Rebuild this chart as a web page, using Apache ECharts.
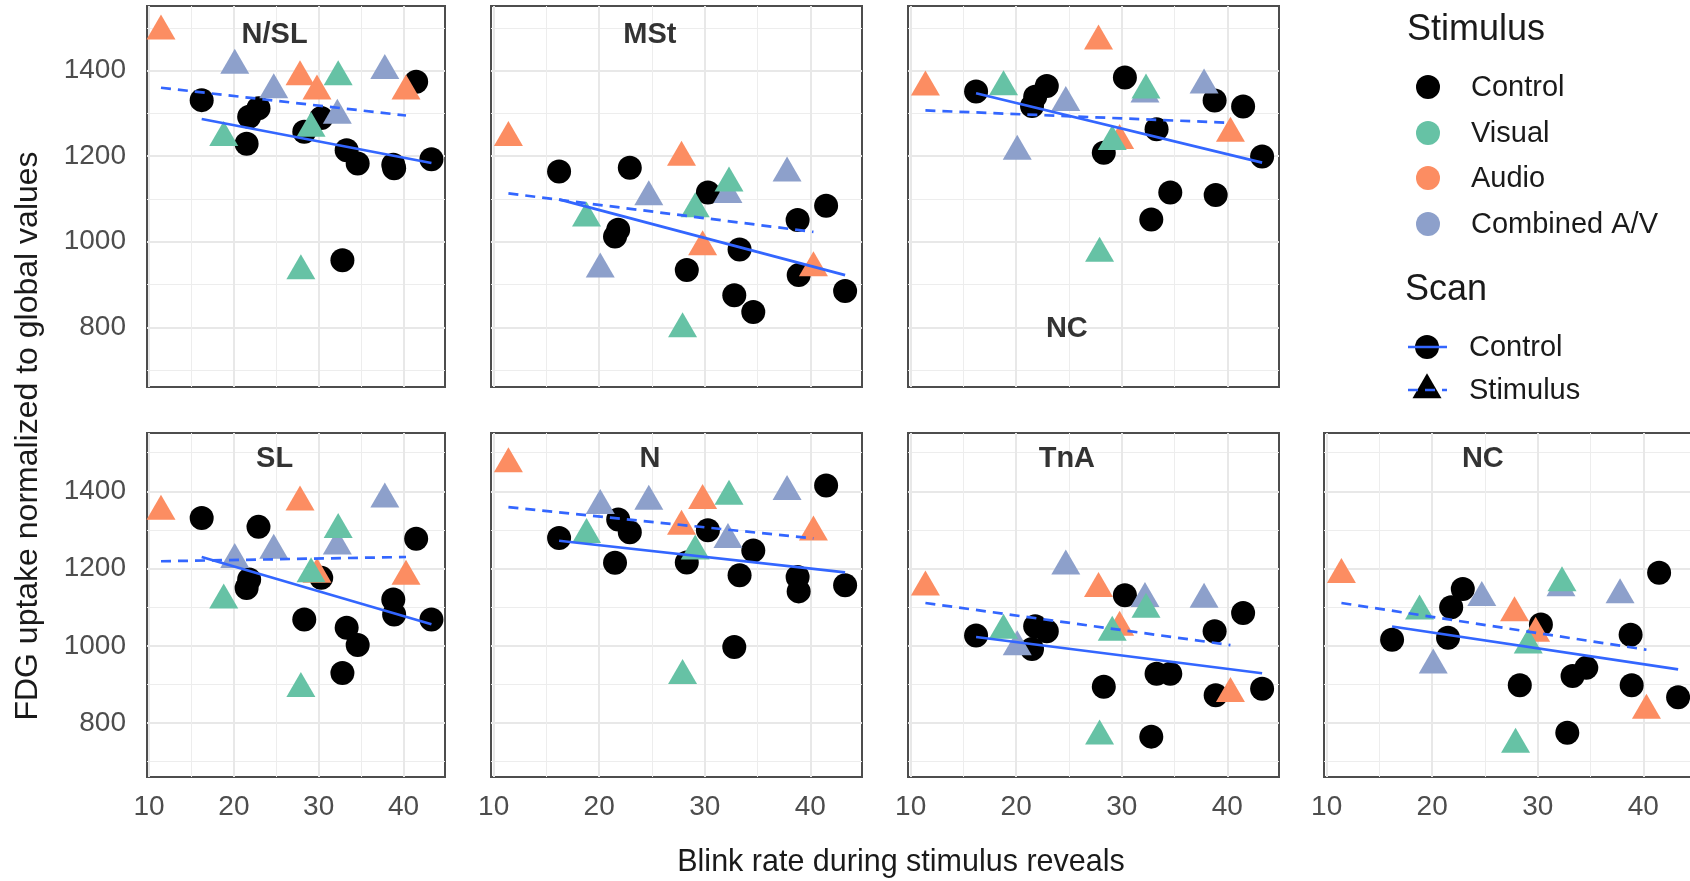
<!DOCTYPE html>
<html>
<head>
<meta charset="utf-8">
<script src="https://cdn.jsdelivr.net/npm/echarts@6/dist/echarts.min.js"></script>
<style>
  html, body { margin: 0; padding: 0; background: #ffffff; }
  #chart { width: 1690px; height: 881px; }
</style>
</head>
<body>
<div id="chart"></div>
<script>
// Region tags, one per facet (reading order)
const panelNames = ['N/SL', 'MSt', 'NC', 'SL', 'N', 'TnA', 'NC'];

// Blink rate of each subject (x), shared by every facet
const ctrlBlink = [16.2, 21.5, 21.8, 22.9, 28.3, 30.3, 32.8, 33.3, 34.6, 38.8, 38.9, 41.5, 43.3];
const audioBlink = [11.4, 27.8, 29.8, 40.3];
const visualBlink = [18.8, 27.9, 29.1, 32.3];
const combinedBlink = [20.1, 24.7, 32.2, 37.8];

// FDG uptake per facet (rows follow panelNames)
const ctrlFDG = [
  [1331, 1229, 1292, 1312, 1257, 1289, 957, 1214, 1183, 1180, 1172, 1374, 1193],
  [1164, 1012, 1028, 1173, 934, 1115, 875, 982, 836, 1051, 922, 1084, 885],
  [1351, 1317, 1339, 1364, 1208, 1384, 1052, 1263, 1115, 1330, 1109, 1316, 1199],
  [1331, 1150, 1172, 1308, 1068, 1176, 930, 1047, 1002, 1120, 1081, 1277, 1068],
  [1279, 1215, 1327, 1294, 1216, 1299, 997, 1183, 1247, 1178, 1141, 1415, 1157],
  [1027, 992, 1051, 1038, 894, 1131, 765, 928, 928, 1038, 872, 1085, 889],
  [1016, 1021, 1100, 1147, 898, 1055, 775, 922, 943, 1029, 898, 1189, 867]
];
const audioFDG = [
  [1492, 1385, 1352, 1352],
  [1243, 1197, 988, 939],
  [1361, 1469, 1236, 1253],
  [1348, 1372, 1185, 1180],
  [1471, 1309, 1376, 1294],
  [1152, 1148, 1048, 876],
  [1184, 1085, 1032, 833]
];
const visualFDG = [
  [1243, 932, 1265, 1385],
  [1055, 796, 1077, 1137],
  [1362, 973, 1234, 1354],
  [1118, 889, 1186, 1301],
  [1288, 923, 1245, 1387],
  [1040, 766, 1035, 1094],
  [1090, 745, 1002, 1163]
];
const combinedFDG = [
  [1412, 1355, 1295, 1400],
  [936, 1105, 1110, 1160],
  [1211, 1325, 1345, 1366],
  [1223, 1247, 1258, 1380],
  [1363, 1374, 1275, 1399],
  [997, 1206, 1122, 1120],
  [950, 1125, 1150, 1132]
];

// Linear fits: FDG at the first and last blink rate of each scan group
const fitControlFDG = [
  [1287, 1184], [1099, 922], [1347, 1185], [1230, 1056], [1272, 1190], [1023, 929], [1050, 939]
];
const fitStimulusFDG = [
  [1360, 1295], [1113, 1023], [1307, 1278], [1219, 1230], [1359, 1278], [1111, 1002], [1111, 990]
];

// Where each region tag sits, in data units
const tagBlink = [24.8, 24.8, 24.8, 24.8, 24.8, 24.8, 24.8];
const tagFDG = [1484, 1484, 796, 1484, 1484, 1484, 1484];

// Axis ranges and tick labels
const xRange = [9.75, 44.9];
const yRange = [660.5, 1551];
const xTickLabels = [10, 20, 30, 40];
const yTickLabels = [800, 1000, 1200, 1400];

// ---- layout and styling ----
const FONT = '"Liberation Sans", Arial, sans-serif';
const COLORS = { Control: '#000000', Visual: '#66C2A5', Audio: '#FC8D62', 'Combined A/V': '#8DA0CB' };
const FIT_COLOR = '#3366FF';
const panelBoxes = [
  [147, 6, 298, 381], [491, 6, 371, 381], [908, 6, 371, 381],
  [147, 433, 298, 344], [491, 433, 371, 344], [908, 433, 371, 344], [1324, 433, 371, 344]
];
const bottomRow = [false, false, false, true, true, true, true];
const leftCol = [true, false, false, true, false, false, false];

const TRI_W = 29, TRI_H = 25;

const grids = [], xAxes = [], yAxes = [], series = [];

const pairs = (xs, ys) => xs.map((x, k) => [x, ys[k]]);
const pick = (list, v) => list.indexOf(Math.round(v * 1000) / 1000) >= 0;

panelBoxes.forEach((b, i) => {
  grids.push({
    left: b[0], top: b[1], width: b[2], height: b[3],
    outerBoundsMode: 'none', containLabel: false,
    show: true, borderColor: '#4d4d4d', borderWidth: 2, backgroundColor: 'transparent'
  });
  // minor grid (every 5 / every 100)
  xAxes.push({
    type: 'value', gridIndex: i, position: 'bottom', min: xRange[0], max: xRange[1],
    minInterval: 5, maxInterval: 5,
    axisLine: { show: false, onZero: false }, axisTick: { show: false }, axisLabel: { show: false },
    splitLine: { show: true, showMinLine: false, showMaxLine: false, lineStyle: { color: '#ededed', width: 1 } }
  });
  // major grid with labels (every 10)
  xAxes.push({
    type: 'value', gridIndex: i, position: 'bottom', min: xRange[0], max: xRange[1],
    minInterval: 10, maxInterval: 10,
    axisLine: { show: false, onZero: false }, axisTick: { show: false },
    axisLabel: {
      show: bottomRow[i], margin: 16, fontSize: 28, color: '#4d4d4d', fontFamily: FONT,
      formatter: v => (pick(xTickLabels, v) ? String(v) : '')
    },
    splitLine: { show: true, showMinLine: false, showMaxLine: false, lineStyle: { color: '#e8e8e8', width: 2 } }
  });
  yAxes.push({
    type: 'value', gridIndex: i, position: 'left', min: yRange[0], max: yRange[1],
    minInterval: 100, maxInterval: 100,
    axisLine: { show: false, onZero: false }, axisTick: { show: false }, axisLabel: { show: false },
    splitLine: { show: true, showMinLine: false, showMaxLine: false, lineStyle: { color: '#ededed', width: 1 } }
  });
  yAxes.push({
    type: 'value', gridIndex: i, position: 'left', min: yRange[0], max: yRange[1],
    minInterval: 200, maxInterval: 200,
    axisLine: { show: false, onZero: false }, axisTick: { show: false },
    axisLabel: {
      show: leftCol[i], margin: 21, fontSize: 28, color: '#4d4d4d', fontFamily: FONT,
      formatter: v => (pick(yTickLabels, v) ? String(v) : '')
    },
    splitLine: { show: true, showMinLine: false, showMaxLine: false, lineStyle: { color: '#e8e8e8', width: 2 } }
  });

  const xi = 2 * i + 1, yi = 2 * i + 1;

  // control scan: black circles
  series.push({
    type: 'scatter', name: 'Control', xAxisIndex: xi, yAxisIndex: yi,
    symbol: 'circle', symbolSize: 24, itemStyle: { color: COLORS.Control, opacity: 1 },
    data: pairs(ctrlBlink, ctrlFDG[i]), z: 3
  });
  // stimulus scan: triangles coloured by stimulus type
  const tri = (name, xs, ys) => ({
    type: 'scatter', name, xAxisIndex: xi, yAxisIndex: yi,
    symbol: 'triangle', symbolSize: [TRI_W, TRI_H], symbolOffset: [0, -TRI_H / 6],
    itemStyle: { color: COLORS[name], opacity: 1 }, data: pairs(xs, ys), z: 3
  });
  series.push(tri('Combined A/V', combinedBlink, combinedFDG[i]));
  series.push(tri('Audio', audioBlink, audioFDG[i]));
  series.push(tri('Visual', visualBlink, visualFDG[i]));

  // fitted lines
  const cx0 = Math.min(...ctrlBlink), cx1 = Math.max(...ctrlBlink);
  const stimX = audioBlink.concat(visualBlink, combinedBlink);
  const sx0 = Math.min(...stimX), sx1 = Math.max(...stimX);
  series.push({
    type: 'line', xAxisIndex: xi, yAxisIndex: yi, symbol: 'none', z: 4,
    lineStyle: { color: FIT_COLOR, width: 2.7, type: 'solid' },
    data: [[cx0, fitControlFDG[i][0]], [cx1, fitControlFDG[i][1]]]
  });
  series.push({
    type: 'line', xAxisIndex: xi, yAxisIndex: yi, symbol: 'none', z: 4,
    lineStyle: { color: FIT_COLOR, width: 2.7, type: [10, 7] },
    data: [[sx0, fitStimulusFDG[i][0]], [sx1, fitStimulusFDG[i][1]]]
  });

  // region tag
  series.push({
    type: 'scatter', xAxisIndex: xi, yAxisIndex: yi, symbol: 'circle', symbolSize: 2, z: 5,
    itemStyle: { color: 'rgba(0,0,0,0)' },
    label: {
      show: true, position: 'inside', formatter: panelNames[i],
      fontSize: 29, fontWeight: 'bold', color: '#000000', fontFamily: FONT,
      textBorderWidth: 0
    },
    data: [[tagBlink[i], tagFDG[i]]]
  });
});

// legend and axis titles
const legendText = (text, x, y, size) => ({
  type: 'text', x, y,
  style: { text, fontSize: size, fontFamily: FONT, fill: '#1a1a1a', align: 'left', verticalAlign: 'middle' }
});
const stimulusItems = ['Control', 'Visual', 'Audio', 'Combined A/V'];
const stimulusRows = [87, 133, 178, 224];
const graphics = [
  {
    type: 'text', x: 901, y: 863,
    style: { text: 'Blink rate during stimulus reveals', fontSize: 30.5, fontFamily: FONT, fill: '#1a1a1a', align: 'center', verticalAlign: 'middle' }
  },
  {
    type: 'text', x: 28, y: 436, rotation: Math.PI / 2,
    style: { text: 'FDG uptake normalized to global values', fontSize: 32, fontFamily: FONT, fill: '#1a1a1a', align: 'center', verticalAlign: 'middle' }
  },
  legendText('Stimulus', 1407, 30, 36),
  legendText('Scan', 1405, 290, 36)
];
stimulusItems.forEach((name, k) => {
  graphics.push({ type: 'circle', shape: { cx: 1428, cy: stimulusRows[k], r: 12 }, style: { fill: COLORS[name] } });
  graphics.push(legendText(name, 1471, stimulusRows[k] + 1, 29));
});
// Scan key: circle + solid line, triangle + dashed line
graphics.push({ type: 'circle', shape: { cx: 1427, cy: 347, r: 12 }, style: { fill: '#000000' } });
graphics.push({ type: 'line', shape: { x1: 1408, y1: 347, x2: 1447, y2: 347 }, style: { stroke: FIT_COLOR, lineWidth: 2.7 } });
graphics.push(legendText('Control', 1469, 348, 29));
graphics.push({
  type: 'polygon',
  shape: { points: [[1427, 390 - TRI_H * 2 / 3], [1427 - TRI_W / 2, 390 + TRI_H / 3], [1427 + TRI_W / 2, 390 + TRI_H / 3]] },
  style: { fill: '#000000' }
});
graphics.push({ type: 'line', shape: { x1: 1408, y1: 390, x2: 1447, y2: 390 }, style: { stroke: FIT_COLOR, lineWidth: 2.7, lineDash: [10, 7] } });
graphics.push(legendText('Stimulus', 1469, 391, 29));

const chart = echarts.init(document.getElementById('chart'), null, { renderer: 'canvas' });
chart.setOption({
  animation: false,
  backgroundColor: '#ffffff',
  textStyle: { fontFamily: FONT },
  grid: grids,
  xAxis: xAxes,
  yAxis: yAxes,
  series,
  graphic: graphics
});
</script>
</body>
</html>
